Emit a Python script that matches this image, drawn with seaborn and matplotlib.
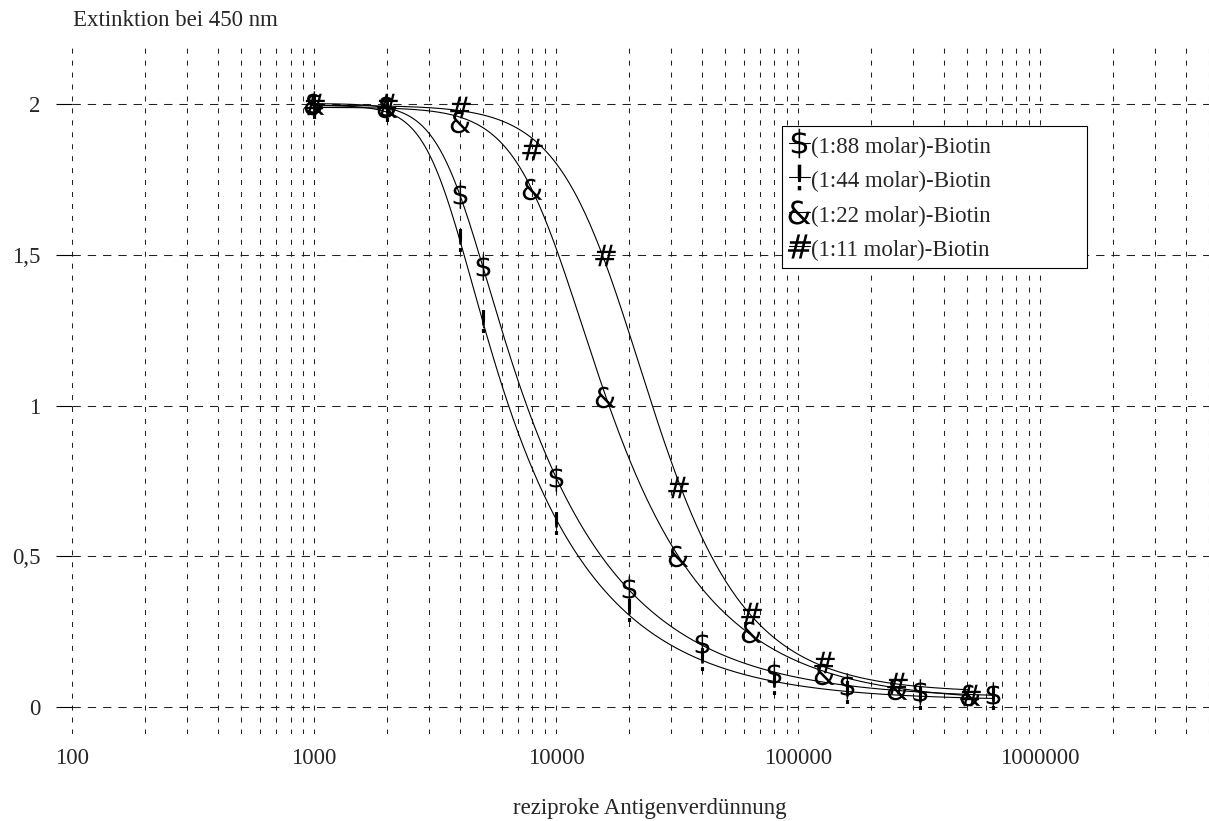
import numpy as np
import pandas as pd
import matplotlib
matplotlib.use("Agg")
import matplotlib.pyplot as plt
import seaborn as sns
from matplotlib.lines import Line2D
from matplotlib.ticker import LogLocator, FixedLocator, NullFormatter

# Data (reciprocal antigen dilution vs. extinction at 450 nm)
x_88 = [1000, 2000, 4000, 5000, 10000, 20000, 40000, 80000, 160000, 320000, 640000]
y_88 = [2.00, 1.99, 1.70, 1.46, 0.76, 0.39, 0.21, 0.11, 0.07, 0.05, 0.04]

x_44 = [1000, 2000, 4000, 5000, 10000, 20000, 40000, 80000, 160000, 320000, 640000]
y_44 = [1.99, 1.98, 1.55, 1.28, 0.61, 0.32, 0.16, 0.08, 0.05, 0.03, 0.03]

x_22 = [1000, 2000, 4000, 8000, 16000, 32000, 64000, 128000, 256000, 512000]
y_22 = [2.00, 1.99, 1.94, 1.72, 1.03, 0.50, 0.25, 0.11, 0.06, 0.04]

x_11 = [1000, 2000, 4000, 8000, 16000, 32000, 64000, 128000, 256000, 512000]
y_11 = [2.00, 2.00, 1.99, 1.85, 1.50, 0.73, 0.31, 0.15, 0.08, 0.04]

labels = ["(1:88 molar)-Biotin", "(1:44 molar)-Biotin",
          "(1:22 molar)-Biotin", "(1:11 molar)-Biotin"]
symbols = [r"$\$$", r"$!$", r"$&$", r"$\#$"]

y_ticks = [0, 0.5, 1, 1.5, 2]
y_ticklabels = ["0", "0,5", "1", "1,5", "2"]
x_ticks = [100, 1000, 10000, 100000, 1000000]
x_ticklabels = ["100", "1000", "10000", "100000", "1000000"]


def _grid_fit(lx, y, lc, b, g):
    # a, d solved by linear least squares for every (lc, b, g)
    s = 1.0 / (1.0 + 10 ** (b * (lx - lc))) ** g
    t = 1.0 - s
    ss, tt, st = (s * s).sum(-1), (t * t).sum(-1), (s * t).sum(-1)
    sy, ty = (s * y).sum(-1), (t * y).sum(-1)
    det = ss * tt - st * st
    a = (sy * tt - ty * st) / det
    d = (ty * ss - sy * st) / det
    res = ((a[..., None] * s + d[..., None] * t - y) ** 2).sum(-1)
    k = np.unravel_index(np.nanargmin(res), res.shape)
    return a[k], d[k], lc.flat[k[0]], b.flat[k[1]], g.flat[k[2]]


def fit_5pl(x, y):
    # five parameter logistic fit in log10(x), coarse then fine grid
    lx = np.log10(np.asarray(x, float))
    y = np.asarray(y, float)
    lc = np.arange(2.5, 5.5, 0.02)[:, None, None, None]
    b = np.arange(0.4, 6.0, 0.05)[None, :, None, None]
    g = np.geomspace(0.15, 4.0, 24)[None, None, :, None]
    a, d, c0, b0, g0 = _grid_fit(lx, y, lc, b, g)
    lc = np.linspace(c0 - 0.04, c0 + 0.04, 41)[:, None, None, None]
    b = np.linspace(max(b0 - 0.1, 0.1), b0 + 0.1, 41)[None, :, None, None]
    g = np.geomspace(g0 / 1.2, g0 * 1.2, 25)[None, None, :, None]
    return _grid_fit(lx, y, lc, b, g)


sns.set_style("white")
plt.rcParams["font.family"] = ["Liberation Serif", "DejaVu Serif"]
plt.rcParams["lines.scale_dashes"] = False
FS = 16.5

fig = plt.figure(figsize=(12.09, 8.21), dpi=100)
ax = fig.add_axes([72 / 1209, 1 - 734 / 821, 1 - 72 / 1209, 690 / 821])

series = [(x_88, y_88), (x_44, y_44), (x_22, y_22), (x_11, y_11)]
msizes = [19, 16.5, 15.5, 15.5]

for (xs, ys), sym, lab, ms in zip(series, symbols, labels, msizes):
    a, d, lc, b, g = fit_5pl(xs, ys)
    xx = np.logspace(np.log10(xs[0]), np.log10(xs[-1]), 400)
    yy = d + (a - d) / (1 + 10 ** (b * (np.log10(xx) - lc))) ** g
    sns.lineplot(x=xx, y=yy, ax=ax, color="black", linewidth=0.8,
                 zorder=3, legend=False)
    df = pd.DataFrame({"x": xs, "y": ys})
    sns.scatterplot(data=df, x="x", y="y", ax=ax, marker=sym, s=ms ** 2,
                    color="black", linewidth=0, zorder=4, legend=False)

ax.set_xscale("log")
ax.set_xlim(100, 5.0e6)
ax.set_ylim(-0.09, 2.2)

ax.xaxis.set_major_locator(FixedLocator(x_ticks))
ax.set_xticklabels(x_ticklabels)
ax.xaxis.set_minor_locator(LogLocator(base=10, subs=range(2, 10), numticks=20))
ax.xaxis.set_minor_formatter(NullFormatter())
ax.set_yticks(y_ticks)
ax.set_yticklabels(y_ticklabels)

ax.tick_params(axis="x", which="both", length=0, pad=10, labelsize=FS)
ax.tick_params(axis="y", which="major", direction="out", length=11.5,
               width=0.8, color="black", pad=11, labelsize=FS, left=True)

ax.xaxis.grid(True, which="both", color="#222222", linewidth=0.75,
              linestyle=(0, (3.6, 5.0)))
ax.yaxis.grid(True, which="major", color="#222222", linewidth=0.75,
              linestyle=(0, (6.0, 5.0)))
ax.set_axisbelow(True)
for sp in ax.spines.values():
    sp.set_visible(False)

ax.set_xlabel("")
ax.set_ylabel("")
fig.text(73 / 1209, 1 - 20 / 821, "Extinktion bei 450 nm", fontsize=FS,
         ha="left", va="center")
fig.text(650 / 1209, 1 - 808 / 821, "reziproke Antigenverdünnung",
         fontsize=FS, ha="center", va="center")

handles = [Line2D([0], [0], color="black", linewidth=0.8, marker=sym,
                  markersize=ms * 1.12, markeredgewidth=0)
           for sym, ms in zip(symbols, msizes)]
x0 = (782 - 72) / 1137
w = (1087 - 782) / 1137
y1 = (734 - 126) / 690
h = (267 - 126) / 690
leg = ax.legend(handles, labels, loc="upper left", mode="expand",
                bbox_to_anchor=(x0, y1 - h, w, h),
                fontsize=FS, frameon=True, fancybox=False, shadow=False,
                framealpha=1, edgecolor="black", handlelength=0.9,
                handleheight=1.3, handletextpad=0.05, labelspacing=0.40,
                borderpad=0.30, borderaxespad=0)
leg.get_frame().set_linewidth(0.8)
leg.set_zorder(5)

fig.savefig("out.png", dpi=100)
